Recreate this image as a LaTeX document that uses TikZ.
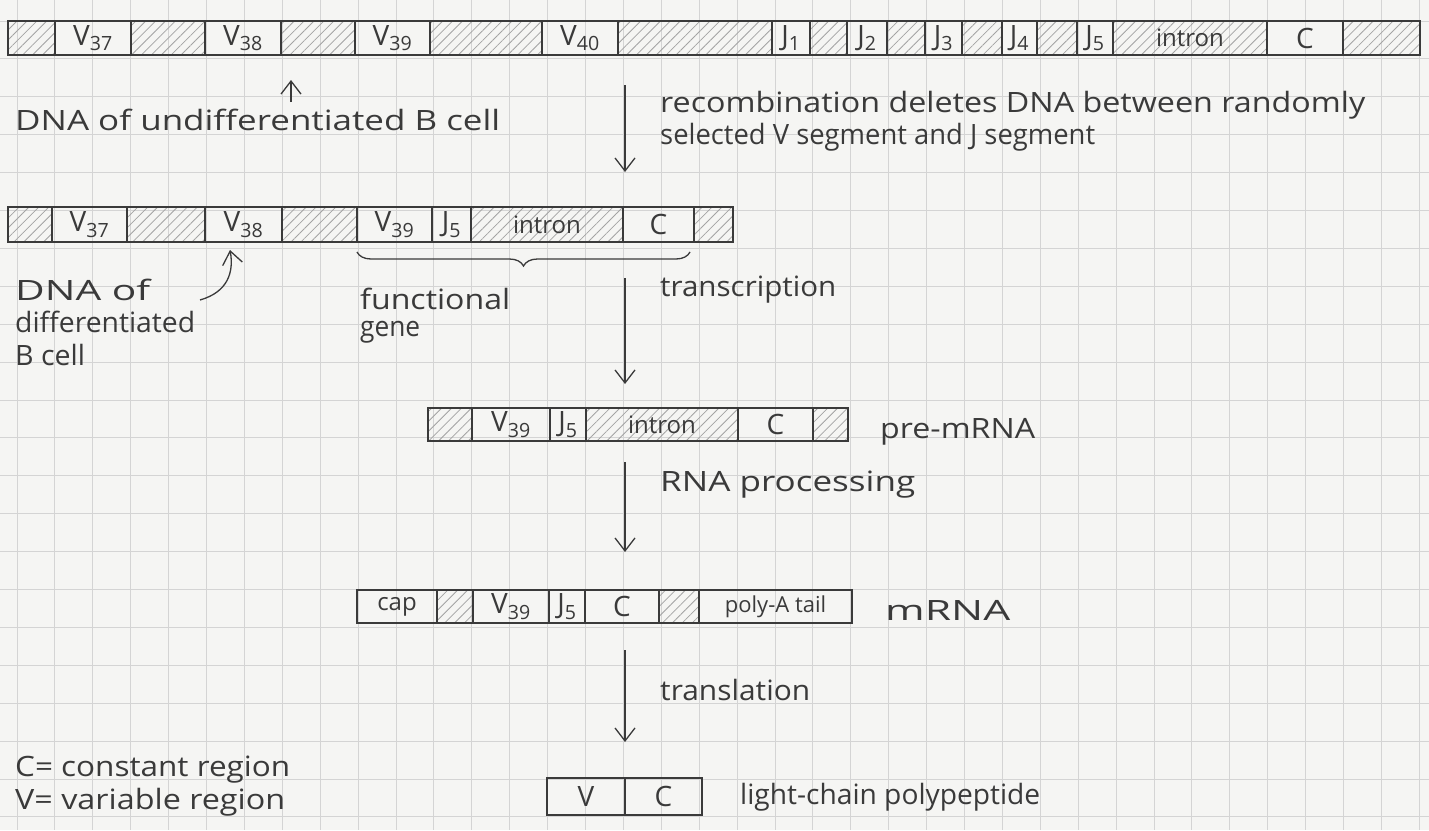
\documentclass[tikz,border=0pt]{standalone}
\usepackage{fontspec}
\setmainfont{Open Sans}
\usetikzlibrary{patterns.meta,fit,arrows.meta,decorations.pathreplacing}
\definecolor{ink}{HTML}{3A3A3A}
\definecolor{hatchc}{HTML}{A3A3A3}
\definecolor{gridc}{HTML}{D4D4D4}
\definecolor{paper}{HTML}{F5F5F3}
\newcommand\fitw[2]{\resizebox{#1pt}{\height}{#2}}
\newcommand\vs[2]{#1\textsubscript{#2}}
\newcommand\seg[7]{%
  \coordinate (#1-a) at (#2,#4);
  \coordinate (#1-b) at (#3,#5);
  \node[#6, fit=(#1-a)(#1-b), label={[segl]center:{#7}}] (#1) {};}
\tikzset{
  seg/.style={draw=ink, line width=1.3pt, inner sep=0pt},
  segl/.style={text=ink, inner sep=0pt, font=\fontsize{28}{30}\selectfont},
  hatched/.style={seg, pattern={Lines[angle=45,distance=7pt,line width=0.8pt]}, pattern color=hatchc},
  plainseg/.style={seg},
  txt/.style={text=ink, anchor=west, inner sep=0pt, font=\fontsize{28}{32}\selectfont},
  arr/.style={draw=ink, line width=1.3pt, -{Straight Barb[length=13pt,width=20pt]}},
}
\begin{document}
\begin{tikzpicture}[x=1pt,y=-1pt]
\useasboundingbox (0,0) rectangle (1429,830);
\fill[paper] (0,0) rectangle (1429,830);
\foreach \i in {0,...,37} \draw[gridc, line width=0.9pt] (17+37.9*\i,0) -- (17+37.9*\i,830);
\foreach \j in {0,...,21} \draw[gridc, line width=0.9pt] (0,21+37.9*\j) -- (1429,21+37.9*\j);

% Row 1: DNA of undifferentiated B cell
\seg{a1}{8}{55}{21}{55}{hatched}{}
\seg{a2}{55}{131}{21}{55}{plainseg}{\vs{V}{37}}
\seg{a3}{131}{205}{21}{55}{hatched}{}
\seg{a4}{205}{281}{21}{55}{plainseg}{\vs{V}{38}}
\seg{a5}{281}{355}{21}{55}{hatched}{}
\seg{a6}{355}{430}{21}{55}{plainseg}{\vs{V}{39}}
\seg{a7}{430}{542}{21}{55}{hatched}{}
\seg{a8}{542}{618}{21}{55}{plainseg}{\vs{V}{40}}
\seg{a9}{618}{772}{21}{55}{hatched}{}
\seg{a10}{772}{810}{21}{55}{plainseg}{\vs{J}{1}}
\seg{a11}{810}{847}{21}{55}{hatched}{}
\seg{a12}{847}{887}{21}{55}{plainseg}{\vs{J}{2}}
\seg{a13}{887}{925}{21}{55}{hatched}{}
\seg{a14}{925}{962}{21}{55}{plainseg}{\vs{J}{3}}
\seg{a15}{962}{1002}{21}{55}{hatched}{}
\seg{a16}{1002}{1037}{21}{55}{plainseg}{\vs{J}{4}}
\seg{a17}{1037}{1077}{21}{55}{hatched}{}
\seg{a18}{1077}{1113}{21}{55}{plainseg}{\vs{J}{5}}
\seg{a19}{1113}{1267}{21}{55}{hatched}{{\fontsize{24}{26}\selectfont intron}}
\seg{a20}{1267}{1343}{21}{55}{plainseg}{C}
\seg{a21}{1343}{1420}{21}{55}{hatched}{}

% Row 2: DNA of differentiated B cell
\seg{b1}{8}{52}{207}{242}{hatched}{}
\seg{b2}{52}{127}{207}{242}{plainseg}{\vs{V}{37}}
\seg{b3}{127}{205}{207}{242}{hatched}{}
\seg{b4}{205}{282}{207}{242}{plainseg}{\vs{V}{38}}
\seg{b5}{282}{357}{207}{242}{hatched}{}
\seg{b6}{357}{432}{207}{242}{plainseg}{\vs{V}{39}}
\seg{b7}{432}{471}{207}{242}{plainseg}{\vs{J}{5}}
\seg{b8}{471}{623}{207}{242}{hatched}{{\fontsize{24}{26}\selectfont intron}}
\seg{b9}{623}{694}{207}{242}{plainseg}{C}
\seg{b10}{694}{733}{207}{242}{hatched}{}

% pre-mRNA
\seg{c1}{428}{472}{408}{441}{hatched}{}
\seg{c2}{472}{550}{408}{441}{plainseg}{\vs{V}{39}}
\seg{c3}{550}{586}{408}{441}{plainseg}{\vs{J}{5}}
\seg{c4}{586}{738}{408}{441}{hatched}{{\fontsize{24}{26}\selectfont intron}}
\seg{c5}{738}{813}{408}{441}{plainseg}{C}
\seg{c6}{813}{848}{408}{441}{hatched}{}

% mRNA
\seg{d1}{357}{437}{590}{623}{plainseg}{{\fontsize{24}{26}\selectfont cap}}
\seg{d2}{437}{473}{590}{623}{hatched}{}
\seg{d3}{473}{549}{590}{623}{plainseg}{\vs{V}{39}}
\seg{d4}{549}{585}{590}{623}{plainseg}{\vs{J}{5}}
\seg{d5}{585}{659}{590}{623}{plainseg}{C}
\seg{d6}{659}{699}{590}{623}{hatched}{}
\seg{d7}{699}{852}{590}{623}{plainseg}{{\fontsize{22}{24}\selectfont poly-A tail}}

% polypeptide
\seg{e1}{547}{625}{778}{815}{plainseg}{V}
\seg{e2}{625}{702}{778}{815}{plainseg}{C}

% texts
\node[txt] (t1) at (15,120) {\fitw{485}{DNA of undifferentiated B cell}};
\node[txt] (t2) at (660,105) {\fitw{705}{recombination deletes DNA between randomly}};
\node[txt] (t3) at (660,137) {\fitw{435}{selected V segment and J segment}};
\node[txt] (t4) at (15,290) {\fitw{135}{DNA of}};
\node[txt] (t5) at (15,322) {\fitw{180}{differentiated}};
\node[txt] (t6) at (15,355) {\fitw{70}{B cell}};
\node[txt] (t7) at (360,299) {\fitw{150}{functional}};
\node[txt] (t8) at (360,332) {\fitw{60}{gene}};
\node[txt] (t9) at (660,290) {\fitw{176}{transcription}};
\node[txt] (t10) at (880,432) {\fitw{155}{pre-mRNA}};
\node[txt] (t11) at (660,485) {\fitw{255}{RNA processing}};
\node[txt] (t12) at (885,610) {\fitw{125}{mRNA}};
\node[txt] (t13) at (660,690) {\fitw{150}{translation}};
\node[txt] (t14) at (740,797) {\fitw{300}{light-chain polypeptide}};
\node[txt] (t15) at (15,770) {\fitw{275}{C= constant region}};
\node[txt] (t16) at (15,802) {\fitw{270}{V= variable region}};

% arrows
\coordinate (p1s) at (625,85);  \coordinate (p1e) at (625,172);
\coordinate (p2s) at (625,278); \coordinate (p2e) at (625,384);
\coordinate (p3s) at (625,462); \coordinate (p3e) at (625,552);
\coordinate (p4s) at (625,650); \coordinate (p4e) at (625,742);
\draw[arr] (p1s) -- (p1e);
\draw[arr] (p2s) -- (p2e);
\draw[arr] (p3s) -- (p3e);
\draw[arr] (p4s) -- (p4e);
\coordinate (u1s) at (291,102); \coordinate (u1e) at (291,80);
\draw[arr] (u1s) -- (u1e);
\coordinate (u2s) at (200,300); \coordinate (u2e) at (230,250);
\draw[arr] (u2s) .. controls (228,292) and (234,272) .. (u2e);
% brace
\coordinate (br1) at (357,252); \coordinate (br2) at (690,252);
\draw[ink, line width=1.3pt, decorate, decoration={brace, mirror, amplitude=14pt}] (br1) -- (br2);
\end{tikzpicture}
\end{document}
